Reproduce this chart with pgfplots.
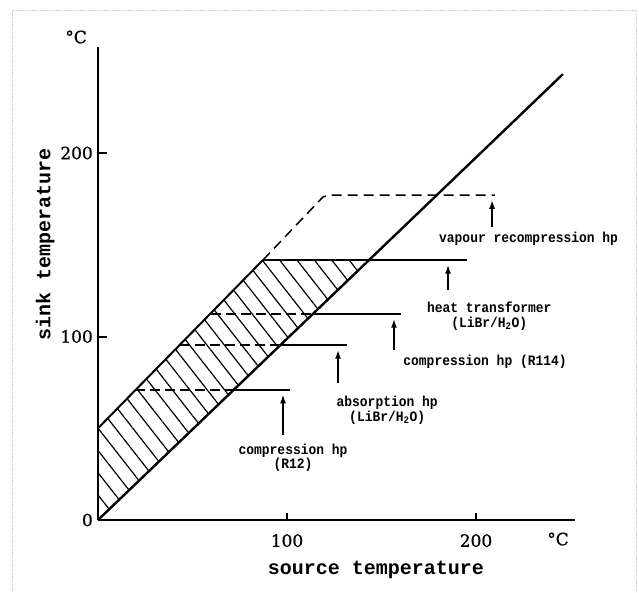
\documentclass[border=0pt]{standalone}
\usepackage{fontspec}
\setmainfont{DejaVu Serif}
\newfontfamily\tickfont[FakeBold=0.8]{DejaVu Serif}
\newfontfamily\mono{Liberation Mono}
\newfontfamily\annfont[FakeStretch=0.9]{Liberation Mono}
\usepackage{pgfplots}
\pgfplotsset{compat=1.18}
\usetikzlibrary{patterns.meta,arrows.meta}

\begin{document}
\begin{tikzpicture}[
  ann/.style={font=\annfont\bfseries\fontsize{14.4}{14.5}\selectfont, align=center, inner sep=0pt},
  lab/.style={font=\mono\bfseries\fontsize{20}{20}\selectfont, inner sep=0pt},
]
\useasboundingbox (0,0) rectangle (639pt,592pt);
\draw[gray!45, line width=0.6pt, dash pattern=on 1.2pt off 1.2pt] (12pt,0) -- (12pt,582pt) -- (636pt,582pt) -- (636pt,0);
\begin{axis}[
  at={(98pt,72pt)}, anchor=south west,
  x=1.89pt, y=1.835pt,
  xmin=0, xmax=252.4, ymin=0, ymax=257.8,
  axis x line=bottom, axis y line=left,
  axis line style={-, line width=2.2pt},
  enlargelimits=false, clip=false,
  xtick={100,200}, ytick={0,100,200},
  major tick length=0pt,
  ticklabel style={font=\tickfont\fontsize{17}{17}\selectfont, inner sep=0pt},
  /pgf/number format/assume math mode=true,
  xticklabel style={anchor=north, yshift=-14pt},
  yticklabel style={anchor=east, xshift=-5pt},
]
% tick marks
\addplot[line width=2pt] coordinates {(0,100) (5,100)};
\addplot[line width=2pt] coordinates {(0,200) (5,200)};
\addplot[line width=1.8pt] coordinates {(100,0) (100,3.6)};
\addplot[line width=1.8pt] coordinates {(200,0) (200,3.6)};
% hatched band
\addplot[draw=none, pattern={Lines[angle=-52,distance=13.7pt,line width=1.2pt]}] coordinates {(0,0) (0,50) (87.3,141.7) (143.4,141.7) (0,0)};
% band upper boundary
\addplot[line width=2pt] coordinates {(0,50) (87.3,141.7)};
% sink = source line
\addplot[line width=2.4pt] coordinates {(0,0) (246,243)};
% heat transformer
\addplot[line width=1.7pt] coordinates {(87.3,141.7) (195.2,141.7)};
% vapour recompression
\addplot[line width=1.5pt, dash pattern=on 10pt off 6pt] coordinates {(87.3,141.7) (119,176) (122,177) (210,177)};
% compression R114
\addplot[line width=1.4pt, dash pattern=on 10pt off 5pt] coordinates {(60,112.3) (113.7,112.3)};
\addplot[line width=1.5pt] coordinates {(113.7,112.3) (160.3,112.3)};
% absorption
\addplot[line width=1.4pt, dash pattern=on 10pt off 5pt] coordinates {(43.5,95.4) (96.6,95.4)};
\addplot[line width=1.5pt] coordinates {(96.6,95.4) (131.7,95.4)};
% compression R12
\addplot[line width=1.4pt, dash pattern=on 10pt off 5pt] coordinates {(19.8,70.8) (71.7,70.8)};
\addplot[line width=1.5pt] coordinates {(71.7,70.8) (101.6,70.8)};
% arrows
\addplot[line width=1.8pt, -{Latex[length=9pt,width=6pt]}] coordinates {(97.9,46.3) (97.9,68.5)};
\addplot[line width=1.8pt, -{Latex[length=9pt,width=6pt]}] coordinates {(127,74.7) (127,92.8)};
\addplot[line width=1.8pt, -{Latex[length=9pt,width=6pt]}] coordinates {(156.6,92.6) (156.6,109.7)};
\addplot[line width=1.8pt, -{Latex[length=9pt,width=6pt]}] coordinates {(185.2,125.3) (185.2,139.2)};
\addplot[line width=1.8pt, -{Latex[length=9pt,width=6pt]}] coordinates {(208.5,159.7) (208.5,174.5)};
% annotations
\node[ann, anchor=west] at (axis cs:180.4,153.1) {vapour recompression hp};
\node[ann] at (axis cs:207,111.2) {heat transformer\\(LiBr/H\textsubscript{2}O)};
\node[ann] at (axis cs:204.8,86.1) {compression hp (R114)};
\node[ann] at (axis cs:153,59.7) {absorption hp\\(LiBr/H\textsubscript{2}O)};
\node[ann] at (axis cs:103.2,33.8) {compression hp\\(R12)};
% axis titles
\node[lab, rotate=90] at (axis cs:-28,150) {sink temperature};
\node[lab] at (axis cs:147,-27.2) {source temperature};
\node[font=\tickfont\fontsize{17}{17}\selectfont] at (axis cs:-11.6,263.2) {°C};
\node[font=\tickfont\fontsize{17}{17}\selectfont] at (axis cs:243.4,-10.4) {°C};
\end{axis}
\end{tikzpicture}
\end{document}
